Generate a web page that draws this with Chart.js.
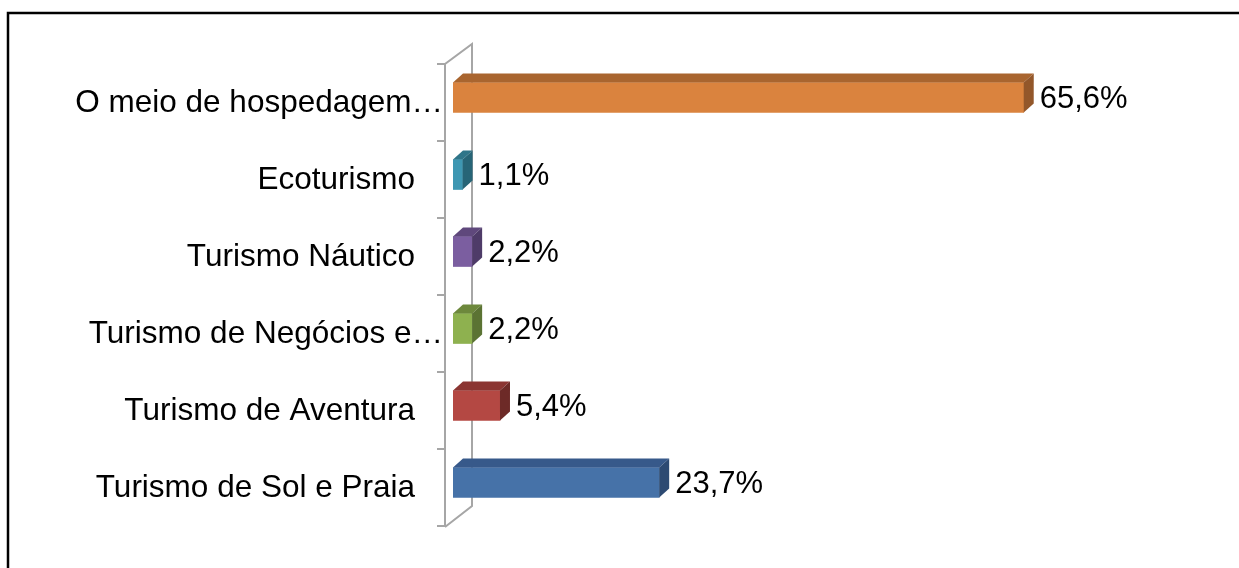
<!DOCTYPE html>
<html>
<head>
<meta charset="utf-8">
<script src="https://cdn.jsdelivr.net/npm/chart.js@4/dist/chart.umd.min.js"></script>
<style>
  body { margin: 0; background: #fff; }
  #wrap { position: relative; width: 1239px; height: 568px; }
</style>
</head>
<body>
<div id="wrap"><canvas id="myChart"></canvas></div>
<script>
const categories = [
  'O meio de hospedagem…',
  'Ecoturismo',
  'Turismo Náutico',
  'Turismo de Negócios e…',
  'Turismo de Aventura',
  'Turismo de Sol e Praia',
];
const shares = [65.6, 1.1, 2.2, 2.2, 5.4, 23.7];
const valueLabels = ['65,6%', '1,1%', '2,2%', '2,2%', '5,4%', '23,7%'];

const frontColors = ['#DA833E', '#3E97B2', '#7B5EA0', '#8EB14F', '#B44843', '#4672A8'];
const topColors = ['#A9652F', '#2F7589', '#5F487C', '#6D883C', '#8B3532', '#37598A'];
const sideColors = ['#93572A', '#276577', '#4E3B68', '#5B7333', '#6D2A27', '#2D4A72'];

const FONT = '"Liberation Sans", Arial, sans-serif';
const DX = 10; // bar depth
const DY = 9;
const LIFT = 5; // bars sit a bit up in the 3d slot

// frame around the picture
const framePlugin = {
  id: 'frame',
  beforeDraw(chart) {
    const { ctx } = chart;
    ctx.save();
    ctx.strokeStyle = '#000';
    ctx.lineWidth = 2.5;
    ctx.beginPath();
    ctx.moveTo(8, 600);
    ctx.lineTo(8, 13);
    ctx.lineTo(1245, 13);
    ctx.stroke();
    ctx.restore();
  },
};

// 3d wall, bar sides, category and value labels
const threeD = {
  id: 'threeD',
  beforeDatasetsDraw(chart) {
    const { ctx, chartArea, scales } = chart;
    const fx = chartArea.left - 8;
    const bx = fx + 27;
    const top = chartArea.top;
    const bottom = chartArea.bottom;
    ctx.save();
    ctx.strokeStyle = '#A6A6A6';
    ctx.lineWidth = 2;
    ctx.beginPath();
    ctx.moveTo(fx, bottom + 1);
    ctx.lineTo(fx, top);
    ctx.lineTo(bx, top - 20);
    ctx.lineTo(bx, bottom - 20);
    ctx.lineTo(fx, bottom + 1);
    const n = scales.y.ticks.length;
    const step = (bottom - top) / n;
    for (let i = 0; i <= n; i += 1) {
      ctx.moveTo(fx - 8, top + i * step);
      ctx.lineTo(fx, top + i * step);
    }
    ctx.stroke();

    // category labels: the cut ones run on past the others, like the original
    ctx.fillStyle = '#000';
    ctx.font = `31.5px ${FONT}`;
    ctx.textAlign = 'right';
    ctx.textBaseline = 'middle';
    categories.forEach((label, i) => {
      const y = scales.y.getPixelForTick(i);
      const right = label.endsWith('…') ? fx - 2 : fx - 30;
      ctx.fillText(label, right, y + 1);
    });
    ctx.restore();

    ctx.save();
    ctx.translate(0, -LIFT);
  },
  afterDatasetsDraw(chart) {
    const { ctx } = chart;
    const meta = chart.getDatasetMeta(0);
    meta.data.forEach((bar, i) => {
      const { x, y, base, height } = bar.getProps(['x', 'y', 'base', 'height'], true);
      const t = y - height / 2;
      const b = y + height / 2;
      ctx.fillStyle = topColors[i];
      ctx.beginPath();
      ctx.moveTo(base, t);
      ctx.lineTo(base + DX, t - DY);
      ctx.lineTo(x + DX, t - DY);
      ctx.lineTo(x, t);
      ctx.closePath();
      ctx.fill();
      ctx.fillStyle = sideColors[i];
      ctx.beginPath();
      ctx.moveTo(x, t);
      ctx.lineTo(x + DX, t - DY);
      ctx.lineTo(x + DX, b - DY);
      ctx.lineTo(x, b);
      ctx.closePath();
      ctx.fill();
    });
    ctx.restore();

    ctx.save();
    ctx.fillStyle = '#000';
    ctx.font = `31px ${FONT}`;
    ctx.textBaseline = 'middle';
    ctx.textAlign = 'left';
    meta.data.forEach((bar, i) => {
      const { x, y } = bar.getProps(['x', 'y'], true);
      ctx.fillText(valueLabels[i], x + 16, y - LIFT + 2);
    });
    ctx.restore();
  },
};

const ctx = document.getElementById('myChart');
// eslint-disable-next-line no-undef, no-new
new Chart(ctx, {
  type: 'bar',
  data: {
    labels: categories,
    datasets: [{
      data: shares,
      backgroundColor: frontColors,
      borderWidth: 0,
      barThickness: 30,
    }],
  },
  options: {
    indexAxis: 'y',
    responsive: true,
    maintainAspectRatio: false,
    animation: false,
    layout: {
      padding: { left: 0, right: 90, top: 64, bottom: 42 },
    },
    plugins: {
      legend: { display: false },
      tooltip: { enabled: false },
    },
    scales: {
      x: {
        display: false,
        min: 0,
        max: 80,
      },
      y: {
        grid: { display: false, drawTicks: false },
        border: { display: false },
        ticks: { display: false },
        afterFit(scale) {
          scale.width = 453;
        },
      },
    },
  },
  plugins: [framePlugin, threeD],
});
</script>
</body>
</html>
